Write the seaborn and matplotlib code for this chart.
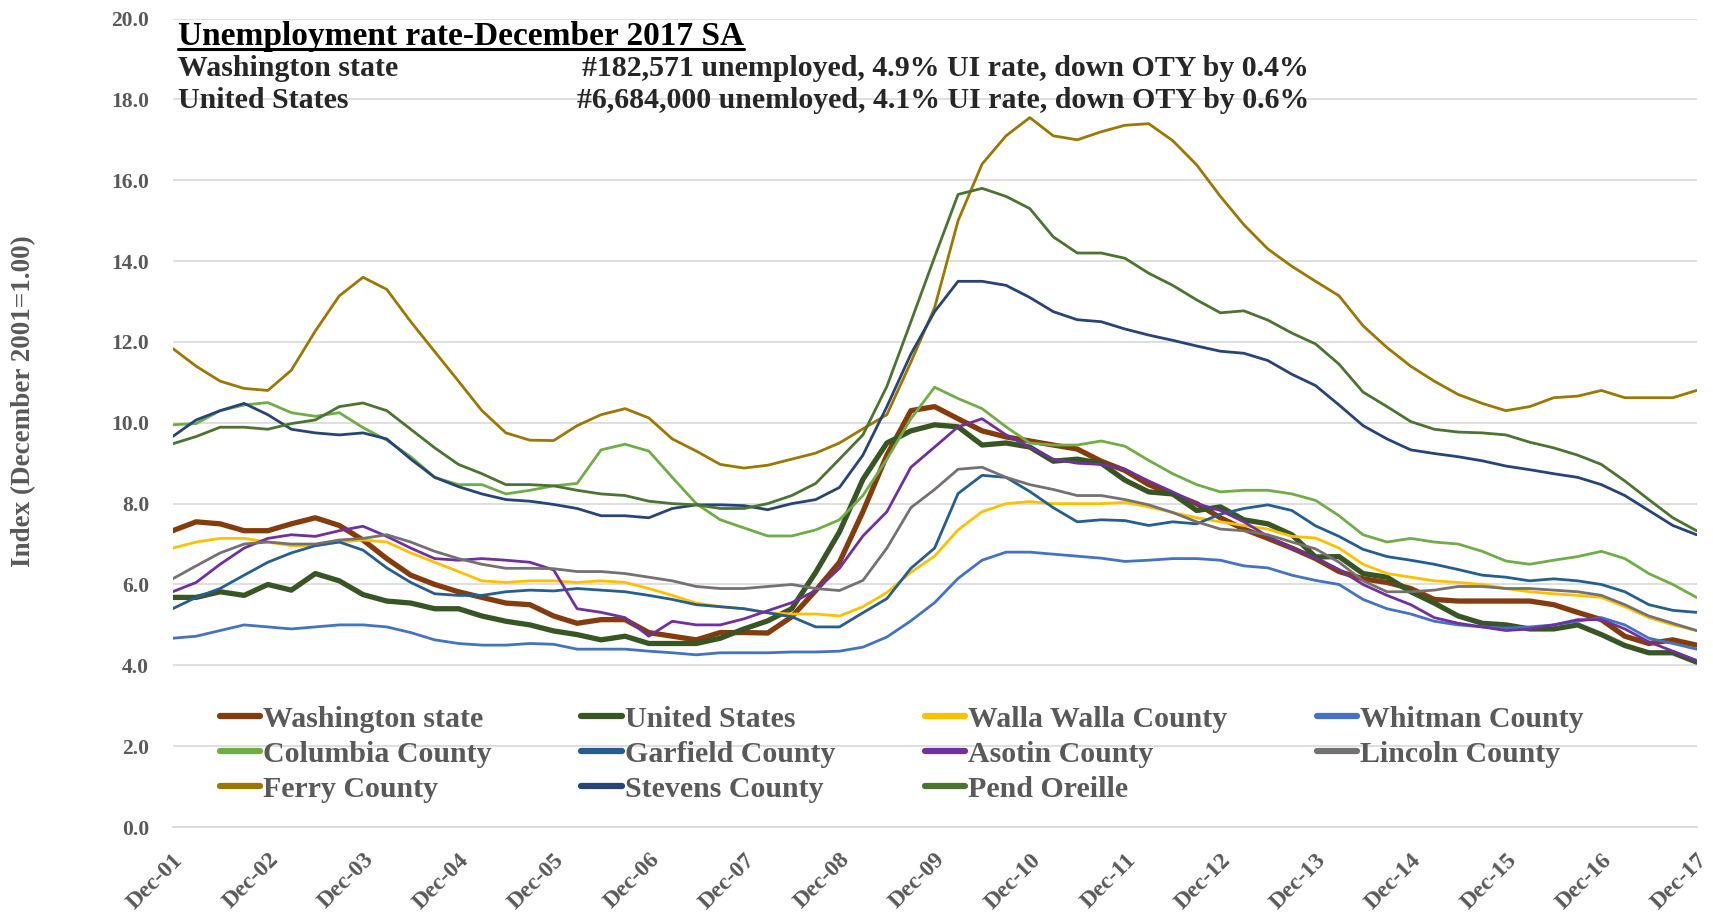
import pandas as pd
import matplotlib
matplotlib.use('Agg')
import matplotlib.pyplot as plt
from matplotlib.lines import Line2D
import seaborn as sns

# Quarterly readings (Dec-01 ... Dec-17), index December 2001 = 1.00
dates = pd.date_range('2001-12-01', '2017-12-01', freq='3MS')

washington = [7.33,
              7.55, 7.5, 7.33, 7.33, 7.5, 7.65, 7.46, 7.1, 6.64, 6.23, 6.0, 5.82,
              5.68, 5.54, 5.5, 5.22, 5.04, 5.13, 5.13, 4.81, 4.72, 4.63, 4.81, 4.81,
              4.8, 5.2, 5.85, 6.55, 7.8, 9.2, 10.3, 10.4, 10.1, 9.8, 9.65, 9.55,
              9.45, 9.35, 9.05, 8.82, 8.47, 8.24, 8.0, 7.65, 7.37, 7.14, 6.9, 6.64,
              6.32, 6.14, 6.05, 5.9, 5.63, 5.59, 5.59, 5.59, 5.59, 5.5, 5.31, 5.13,
              4.72, 4.54, 4.63, 4.5]
united_states = [5.68,
                 5.68, 5.82, 5.73, 6.0, 5.86, 6.27, 6.09, 5.75, 5.59, 5.54, 5.4, 5.4,
                 5.22, 5.09, 5.0, 4.85, 4.76, 4.63, 4.72, 4.54, 4.54, 4.54, 4.67, 4.9,
                 5.1, 5.4, 6.3, 7.3, 8.6, 9.5, 9.8, 9.95, 9.9, 9.45, 9.5, 9.4,
                 9.05, 9.1, 9.0, 8.58, 8.29, 8.24, 7.83, 7.92, 7.6, 7.5, 7.23, 6.68,
                 6.69, 6.27, 6.18, 5.82, 5.54, 5.22, 5.04, 5.0, 4.9, 4.9, 5.0, 4.76,
                 4.49, 4.31, 4.31, 4.08]
walla_walla = [6.9,
               7.05, 7.14, 7.14, 7.05, 6.96, 6.96, 7.05, 7.1, 7.05, 6.78, 6.55, 6.32,
               6.09, 6.05, 6.09, 6.09, 6.05, 6.09, 6.05, 5.9, 5.73, 5.54, 5.45, 5.4,
               5.3, 5.27, 5.27, 5.22, 5.45, 5.8, 6.3, 6.7, 7.35, 7.8, 8.0, 8.05,
               8.0, 8.0, 8.0, 8.03, 7.92, 7.78, 7.65, 7.55, 7.46, 7.37, 7.19, 7.15,
               6.9, 6.5, 6.27, 6.18, 6.09, 6.05, 6.0, 5.9, 5.82, 5.77, 5.73, 5.68,
               5.45, 5.18, 5.0, 4.86]
whitman = [4.67,
           4.72, 4.86, 5.0, 4.95, 4.9, 4.95, 5.0, 5.0, 4.95, 4.81, 4.63, 4.54,
           4.5, 4.5, 4.54, 4.52, 4.4, 4.4, 4.4, 4.35, 4.31, 4.26, 4.31, 4.31,
           4.31, 4.33, 4.33, 4.35, 4.45, 4.7, 5.1, 5.55, 6.15, 6.6, 6.8, 6.8,
           6.75, 6.7, 6.65, 6.57, 6.6, 6.64, 6.64, 6.6, 6.46, 6.41, 6.23, 6.1,
           6.0, 5.63, 5.4, 5.27, 5.09, 5.0, 4.95, 4.92, 4.95, 5.0, 5.09, 5.18,
           5.0, 4.67, 4.54, 4.4]
columbia = [9.95,
            9.98, 10.3, 10.44, 10.5, 10.25, 10.16, 10.25, 9.88, 9.57, 9.16, 8.65, 8.47,
            8.47, 8.24, 8.33, 8.44, 8.5, 9.33, 9.47, 9.3, 8.65, 8.0, 7.6, 7.4,
            7.2, 7.2, 7.35, 7.6, 8.2, 9.1, 10.1, 10.88, 10.6, 10.35, 9.9, 9.5,
            9.45, 9.45, 9.55, 9.42, 9.07, 8.74, 8.47, 8.29, 8.33, 8.33, 8.24, 8.08,
            7.7, 7.23, 7.05, 7.14, 7.05, 7.0, 6.82, 6.58, 6.5, 6.6, 6.69, 6.82,
            6.64, 6.27, 6.0, 5.68]
garfield = [5.4,
            5.68, 5.9, 6.23, 6.55, 6.78, 6.96, 7.05, 6.85, 6.41, 6.05, 5.77, 5.73,
            5.73, 5.82, 5.86, 5.84, 5.9, 5.86, 5.82, 5.73, 5.63, 5.5, 5.45, 5.4,
            5.3, 5.2, 4.95, 4.95, 5.3, 5.65, 6.4, 6.9, 8.25, 8.7, 8.65, 8.3,
            7.9, 7.55, 7.6, 7.58, 7.46, 7.55, 7.5, 7.74, 7.88, 7.97, 7.83, 7.45,
            7.19, 6.87, 6.69, 6.6, 6.5, 6.37, 6.23, 6.18, 6.09, 6.14, 6.09, 6.0,
            5.82, 5.5, 5.36, 5.31]
asotin = [5.82,
          6.05, 6.5, 6.9, 7.14, 7.23, 7.19, 7.33, 7.44, 7.19, 6.9, 6.64, 6.6,
          6.64, 6.6, 6.55, 6.36, 5.4, 5.31, 5.18, 4.72, 5.09, 5.0, 5.0, 5.15,
          5.35, 5.55, 5.85, 6.4, 7.2, 7.8, 8.9, 9.4, 9.9, 10.1, 9.7, 9.4,
          9.1, 9.0, 8.97, 8.85, 8.56, 8.29, 8.0, 7.83, 7.55, 7.19, 6.9, 6.65,
          6.37, 6.0, 5.73, 5.5, 5.18, 5.04, 4.95, 4.86, 4.9, 5.0, 5.13, 5.13,
          4.9, 4.58, 4.35, 4.12]
lincoln = [6.14,
           6.46, 6.78, 7.0, 7.05, 7.0, 7.0, 7.1, 7.14, 7.23, 7.05, 6.82, 6.64,
           6.5, 6.4, 6.4, 6.39, 6.32, 6.32, 6.27, 6.18, 6.09, 5.95, 5.9, 5.9,
           5.95, 6.0, 5.9, 5.85, 6.1, 6.9, 7.9, 8.35, 8.85, 8.9, 8.65, 8.47,
           8.35, 8.2, 8.2, 8.1, 7.97, 7.78, 7.55, 7.37, 7.33, 7.23, 7.05, 6.88,
           6.55, 6.09, 5.82, 5.82, 5.86, 5.95, 5.95, 5.9, 5.9, 5.86, 5.82, 5.73,
           5.5, 5.22, 5.04, 4.86]
ferry = [11.84,
         11.4, 11.03, 10.85, 10.8, 11.3, 12.27, 13.14, 13.6, 13.3, 12.5, 11.76, 11.03,
         10.3, 9.75, 9.57, 9.56, 9.93, 10.2, 10.35, 10.12, 9.6, 9.3, 8.97, 8.88,
         8.95, 9.1, 9.25, 9.5, 9.85, 10.2, 11.5, 12.85, 15.0, 16.4, 17.1, 17.55,
         17.1, 17.0, 17.2, 17.36, 17.4, 16.98, 16.38, 15.6, 14.9, 14.3, 13.87, 13.5,
         13.14, 12.4, 11.86, 11.4, 11.03, 10.7, 10.48, 10.3, 10.4, 10.62, 10.66, 10.8,
         10.62, 10.62, 10.62, 10.8]
stevens = [9.66,
           10.07, 10.3, 10.48, 10.2, 9.84, 9.75, 9.7, 9.75, 9.6, 9.1, 8.65, 8.42,
           8.24, 8.1, 8.06, 7.98, 7.88, 7.7, 7.7, 7.65, 7.88, 7.97, 7.97, 7.95,
           7.85, 8.0, 8.1, 8.4, 9.2, 10.4, 11.7, 12.75, 13.5, 13.5, 13.4, 13.1,
           12.75, 12.55, 12.5, 12.32, 12.17, 12.04, 11.9, 11.77, 11.72, 11.54, 11.2, 10.92,
           10.44, 9.93, 9.6, 9.33, 9.24, 9.16, 9.06, 8.93, 8.84, 8.74, 8.65, 8.47,
           8.2, 7.83, 7.46, 7.23]
pend_oreille = [9.48,
                9.66, 9.89, 9.89, 9.84, 9.98, 10.07, 10.4, 10.49, 10.3, 9.84, 9.38, 8.97,
                8.74, 8.47, 8.47, 8.44, 8.33, 8.24, 8.2, 8.06, 8.0, 7.97, 7.88, 7.88,
                8.0, 8.2, 8.5, 9.1, 9.7, 10.9, 12.5, 14.1, 15.65, 15.8, 15.6, 15.3,
                14.6, 14.2, 14.2, 14.07, 13.7, 13.4, 13.04, 12.72, 12.77, 12.54, 12.22, 11.95,
                11.45, 10.76, 10.4, 10.03, 9.84, 9.77, 9.75, 9.7, 9.52, 9.38, 9.2, 8.97,
                8.56, 8.1, 7.65, 7.33]

names = ['Washington state', 'United States', 'Walla Walla County', 'Whitman County',
         'Columbia County', 'Garfield County', 'Asotin County', 'Lincoln County',
         'Ferry County', 'Stevens County', 'Pend Oreille']
series = [washington, united_states, walla_walla, whitman, columbia, garfield,
          asotin, lincoln, ferry, stevens, pend_oreille]
colors = ['#843C0C', '#375623', '#FFC000', '#4472C4', '#70AD47', '#255E91',
          '#7030A0', '#767171', '#9C7800', '#264478', '#4A7430']
widths = [3.8, 3.8, 2.0, 2.0, 2.0, 2.0, 2.0, 2.0, 2.0, 2.0, 2.0]

sns.set_theme(style='white')
plt.rcParams['font.family'] = ['Liberation Serif', 'DejaVu Serif']
plt.rcParams['font.weight'] = 'bold'

fig = plt.figure(figsize=(17.13, 9.19), dpi=100)
ax = fig.add_axes([0.1008, 0.1001, 0.8896, 0.8797])

lines = {}
for name, vals, col, lw in zip(names, series, colors, widths):
    df = pd.DataFrame({'date': dates, 'value': vals})
    sns.lineplot(data=df, x='date', y='value', color=col, linewidth=lw, ax=ax)
    lines[name] = ax.get_lines()[-1]

gray = '#595959'
ax.set_xlim(dates[0], dates[-1])
ax.set_ylim(0, 20)
ax.set_yticks(range(0, 21, 2))
ax.set_yticklabels([f'{v:.1f}' for v in range(0, 21, 2)])
ax.yaxis.grid(True, color='#D9D9D9', linewidth=1.2)
ax.set_axisbelow(True)
for s in ['top', 'right', 'left']:
    ax.spines[s].set_visible(False)
ax.spines['bottom'].set_color('#D9D9D9')
ax.spines['bottom'].set_linewidth(1.2)

xt = pd.date_range('2001-12-01', '2017-12-01', freq='12MS')
ax.set_xticks(xt)
ax.set_xticklabels([d.strftime('%b-%y') for d in xt], rotation=45, ha='right',
                   rotation_mode='anchor')
ax.tick_params(axis='x', length=7, color='#D9D9D9', width=1.2, pad=9,
               labelsize=17, labelcolor=gray)
ax.tick_params(axis='y', length=0, pad=17, labelsize=15.5, labelcolor=gray)
for lab in ax.get_xticklabels() + ax.get_yticklabels():
    lab.set_fontweight('bold')
ax.set_xlabel('')
ax.set_ylabel('')

fig.text(0.014, 0.563, 'Index (December 2001=1.00)', rotation=90, ha='center',
         va='center', fontsize=19.5, fontweight='bold', color=gray)

# header block
ytr = ax.get_yaxis_transform()
title = ax.text(0.0035, 19.55, 'Unemployment rate-December 2017 SA', transform=ytr,
                fontsize=24, fontweight='bold', color='black', va='center', ha='left')
ax.text(0.0035, 18.76, 'Washington state', transform=ytr,
        fontsize=21.5, fontweight='bold', va='center', ha='left')
ax.text(0.7457, 18.76, '#182,571 unemployed, 4.9% UI rate, down OTY by 0.4%',
        transform=ytr, fontsize=21.5, fontweight='bold', va='center', ha='right')
ax.text(0.0035, 17.97, 'United States', transform=ytr,
        fontsize=21.5, fontweight='bold', va='center', ha='left')
ax.text(0.7457, 17.97, '#6,684,000 unemloyed, 4.1% UI rate, down OTY by 0.6%',
        transform=ytr, fontsize=21.5, fontweight='bold', va='center', ha='right')

# legend, filled column-wise to give the row layout of the original
order = ['Washington state', 'Columbia County', 'Ferry County',
         'United States', 'Garfield County', 'Stevens County',
         'Walla Walla County', 'Asotin County', 'Pend Oreille',
         'Whitman County', 'Lincoln County']
handles = [Line2D([], [], color=lines[n].get_color(), linewidth=4.5) for n in order]
leg = ax.legend(handles, order, ncol=4, loc='upper left',
                bbox_to_anchor=(0.031, 0.150), frameon=False, borderpad=0,
                borderaxespad=0, handlelength=1.35, handletextpad=0.1,
                columnspacing=3.0, labelspacing=0.27,
                prop={'size': 21.5, 'weight': 'bold'})
for t in leg.get_texts():
    t.set_color(gray)

# underline the header title
fig.canvas.draw()
bb = title.get_window_extent(renderer=fig.canvas.get_renderer())
inv = fig.transFigure.inverted()
(x0, y0), (x1, _) = inv.transform([(bb.x0, bb.y0 + 3), (bb.x1, bb.y0 + 3)])
fig.add_artist(Line2D([x0, x1], [y0, y0], color='black', linewidth=2.2,
                      transform=fig.transFigure))

fig.savefig('out.png', dpi=100)
